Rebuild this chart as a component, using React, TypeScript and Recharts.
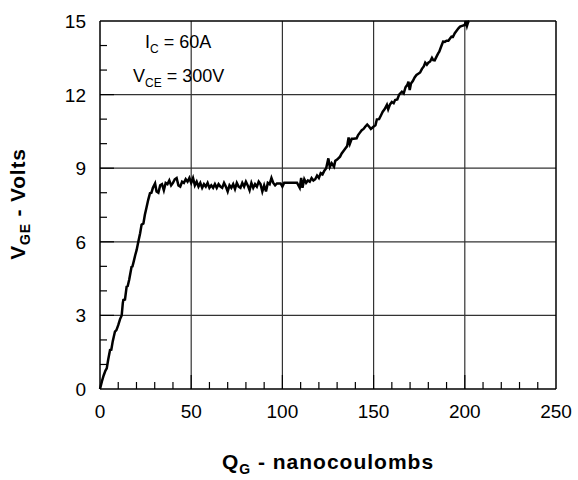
import React from 'react';
import { LineChart, Line, XAxis, YAxis, ReferenceLine } from 'recharts';

// gate charge curve
const qg = [
  0, 1, 2, 3, 3.7, 4.5, 5.5, 6.2, 7, 8.2, 9, 10, 11, 11.9, 12.5, 12.8, 13.7, 14.6, 15.2, 16,
  17.3, 17.8, 18.5, 19.3, 20.1, 21, 22, 22.8, 23.8, 24.6, 25.5, 26.4, 27.4, 28.2, 29, 30.2,
  31, 32, 33, 34, 35, 36, 37, 38, 39, 40, 41, 42, 43, 44, 45, 46, 47, 48, 49, 50,
  51, 52, 53, 54, 55, 56, 57, 58, 59, 60, 61, 62, 63, 64, 65, 66, 67, 68, 69, 70,
  71, 72, 73, 74, 75, 76, 77, 78, 79, 80, 81, 82, 83, 84, 85, 86, 87, 88, 89, 90,
  91, 92, 93, 94, 95, 96, 97, 99, 100, 101, 108, 109.5, 110.3, 111, 112, 113, 114, 115, 116,
  117, 118, 119, 120, 121, 122, 123, 124, 125.2, 126, 127, 128.3, 129, 130, 131.6, 132.5, 133.5,
  134.5, 135.5, 136.3, 137, 138, 139, 140.7, 141.5, 142.5, 143.5, 144.5, 145.5, 146.5, 147.5,
  148.5, 149.9, 151, 151.8, 153, 154, 155, 156, 157.3, 158, 159, 160, 161, 161.8, 163, 164,
  165.5, 166.5, 167.5, 168.5, 169.1, 169.8, 170.5, 171.5, 172.5, 173.5, 174.5, 175.5, 176.5,
  177.5, 178.3, 179.2, 180, 181, 182, 182.7, 183.5, 184.5, 185.4, 186, 187, 188.1, 189, 190,
  191, 192, 192.7, 193.5, 194.5, 195.5, 196.5, 197.4, 198.5, 200, 200.6, 201.2, 201.9, 202.4,
];
const vge = [
  0, 0.3, 0.55, 0.75, 0.84, 1.2, 1.59, 1.6, 1.95, 2.34, 2.4, 2.6, 2.85, 3.0, 3.5, 3.63, 3.65, 4.17, 4.2, 4.45,
  4.98, 5.0, 5.2, 5.45, 5.67, 6.0, 6.35, 6.7, 6.75, 7.1, 7.4, 7.7, 7.98, 8.0, 8.2, 8.38,
  8.05, 8.0, 8.3, 8.35, 8.1, 8.4, 8.35, 8.5, 8.3, 8.4, 8.55, 8.6, 8.3, 8.25, 8.45, 8.4, 8.55, 8.45, 8.6, 8.4,
  8.6, 8.3, 8.45, 8.25, 8.4, 8.2, 8.35, 8.25, 8.4, 8.2, 8.3, 8.2, 8.35, 8.2, 8.35, 8.25, 8.2, 8.4, 8.25, 8.05,
  8.3, 8.2, 8.35, 8.15, 8.4, 8.25, 8.2, 8.4, 8.25, 8.45, 8.3, 8.1, 8.4, 8.2, 8.35, 8.25, 8.45, 8.35, 8.05, 8.3,
  8.05, 8.4, 8.35, 8.6, 8.4, 8.3, 8.38, 8.38, 8.25, 8.41, 8.41, 8.2, 8.6, 8.2, 8.55, 8.4, 8.5, 8.45, 8.6,
  8.5, 8.55, 8.7, 8.6, 8.8, 8.75, 8.9, 9.0, 9.4, 9.05, 9.2, 9.06, 9.3, 9.35, 9.47, 9.6, 9.7,
  9.8, 9.9, 10.25, 10.0, 10.2, 10.2, 10.22, 10.35, 10.45, 10.55, 10.6, 10.7, 10.78, 10.7,
  10.6, 10.69, 10.75, 10.99, 11.0, 11.15, 11.3, 11.4, 11.58, 11.4, 11.6, 11.7, 11.65, 11.78, 11.8, 12.0,
  12.12, 12.05, 12.3, 12.4, 12.53, 12.19, 12.45, 12.55, 12.7, 12.8, 12.85, 12.9, 13.05,
  13.15, 13.3, 13.22, 13.3, 13.35, 13.5, 13.41, 13.4, 13.55, 13.68, 13.75, 13.95, 14.16, 14.15, 14.2,
  14.2, 14.3, 14.36, 14.35, 14.5, 14.6, 14.7, 14.77, 14.8, 14.84, 15.0, 14.8, 14.97, 15.0,
];

const xTicks = [0, 10, 20, 30, 40, 50, 60, 70, 80, 90, 100, 110, 120, 130, 140, 150, 160, 170, 180, 190, 200, 210, 220, 230, 240, 250];
const yTicks = [0, 1, 2, 3, 4, 5, 6, 7, 8, 9, 10, 11, 12, 13, 14, 15];
const gridX = [50, 100, 150, 200];
const gridY = [3, 6, 9, 12];

const data = qg.map((q, i) => ({ q, v: vge[i] }));

const FONT = '"Liberation Sans", Arial, sans-serif';

const XTick = (props: any) => {
  const { x, y, payload } = props;
  const val = payload.value;
  const major = val % 50 === 0;
  return (
    <g>
      {val > 0 && val < 250 && (
        <line x1={x} x2={x} y1={y} y2={y - (major ? 14 : 7)} stroke="#000" strokeWidth={1.2} />
      )}
      {major && (
        <text x={x} y={y + 29} textAnchor="middle" fontSize={19} fontFamily={FONT} fill="#000">
          {val}
        </text>
      )}
    </g>
  );
};

const YTickLeft = (props: any) => {
  const { x, y, payload } = props;
  const val = payload.value;
  const major = val % 3 === 0;
  return (
    <g>
      {val > 0 && val < 15 && (
        <line x1={x} x2={x + (major ? 14 : 7)} y1={y} y2={y} stroke="#000" strokeWidth={1.2} />
      )}
      {major && (
        <text x={x - 14} y={y + 7} textAnchor="end" fontSize={19} fontFamily={FONT} fill="#000">
          {val}
        </text>
      )}
    </g>
  );
};

const YTickRight = (props: any) => {
  const { x, y, payload } = props;
  const val = payload.value;
  const major = val % 3 === 0;
  if (val <= 0 || val >= 15) return <g />;
  return <line x1={x} x2={x - (major ? 14 : 7)} y1={y} y2={y} stroke="#000" strokeWidth={1.2} />;
};

export default function App() {
  return (
    <div style={{ position: 'relative', width: 578, height: 480, fontFamily: FONT }}>
      <style>{'body{margin:0}'}</style>
      <LineChart width={578} height={480} data={data} margin={{ top: 21, right: 12, left: 60, bottom: 61 }}>
        <XAxis
          dataKey="q"
          type="number"
          domain={[0, 250]}
          ticks={xTicks}
          interval={0}
          height={30}
          tickSize={0}
          tickMargin={0}
          tickLine={false}
          axisLine={{ stroke: '#000', strokeWidth: 1.5 }}
          tick={<XTick />}
        />
        <YAxis
          type="number"
          domain={[0, 15]}
          ticks={yTicks}
          interval={0}
          width={40}
          tickSize={0}
          tickMargin={0}
          tickLine={false}
          axisLine={{ stroke: '#000', strokeWidth: 1.5 }}
          tick={<YTickLeft />}
        />
        <YAxis
          yAxisId="r"
          orientation="right"
          type="number"
          domain={[0, 15]}
          ticks={yTicks}
          interval={0}
          width={10}
          tickSize={0}
          tickMargin={0}
          tickLine={false}
          axisLine={{ stroke: '#000', strokeWidth: 1.5 }}
          tick={<YTickRight />}
        />
        {gridX.map((g) => (
          <ReferenceLine key={'gx' + g} x={g} stroke="#333" strokeWidth={1.2} />
        ))}
        {gridY.map((g) => (
          <ReferenceLine key={'gy' + g} y={g} stroke="#333" strokeWidth={1.2} />
        ))}
        <ReferenceLine y={15} stroke="#000" strokeWidth={1.5} />
        <Line
          type="linear"
          dataKey="v"
          stroke="#000"
          strokeWidth={2.5}
          dot={false}
          isAnimationActive={false}
        />
      </LineChart>
      <svg
        width={578}
        height={480}
        style={{ position: 'absolute', left: 0, top: 0, pointerEvents: 'none' }}
        fontFamily={FONT}
      >
        <text x={145} y={48} fontSize={18} fill="#000">
          I<tspan fontSize={12} dy={5}>C</tspan>
          <tspan dy={-5}> = 60A</tspan>
        </text>
        <text x={133} y={82} fontSize={18} fill="#000">
          V<tspan fontSize={12} dy={5}>CE</tspan>
          <tspan dy={-5}> = 300V</tspan>
        </text>
        <text x={328} y={469} textAnchor="middle" fontSize={21} fontWeight="bold" letterSpacing={1} fill="#000">
          Q<tspan fontSize={14} dy={5}>G</tspan>
          <tspan dy={-5}> - nanocoulombs</tspan>
        </text>
        <text
          x={25}
          y={204}
          textAnchor="middle"
          fontSize={21}
          fontWeight="bold"
          letterSpacing={0.8}
          fill="#000"
          transform="rotate(-90 25 204)"
        >
          V<tspan fontSize={14} dy={5}>GE</tspan>
          <tspan dy={-5}> - Volts</tspan>
        </text>
      </svg>
    </div>
  );
}
